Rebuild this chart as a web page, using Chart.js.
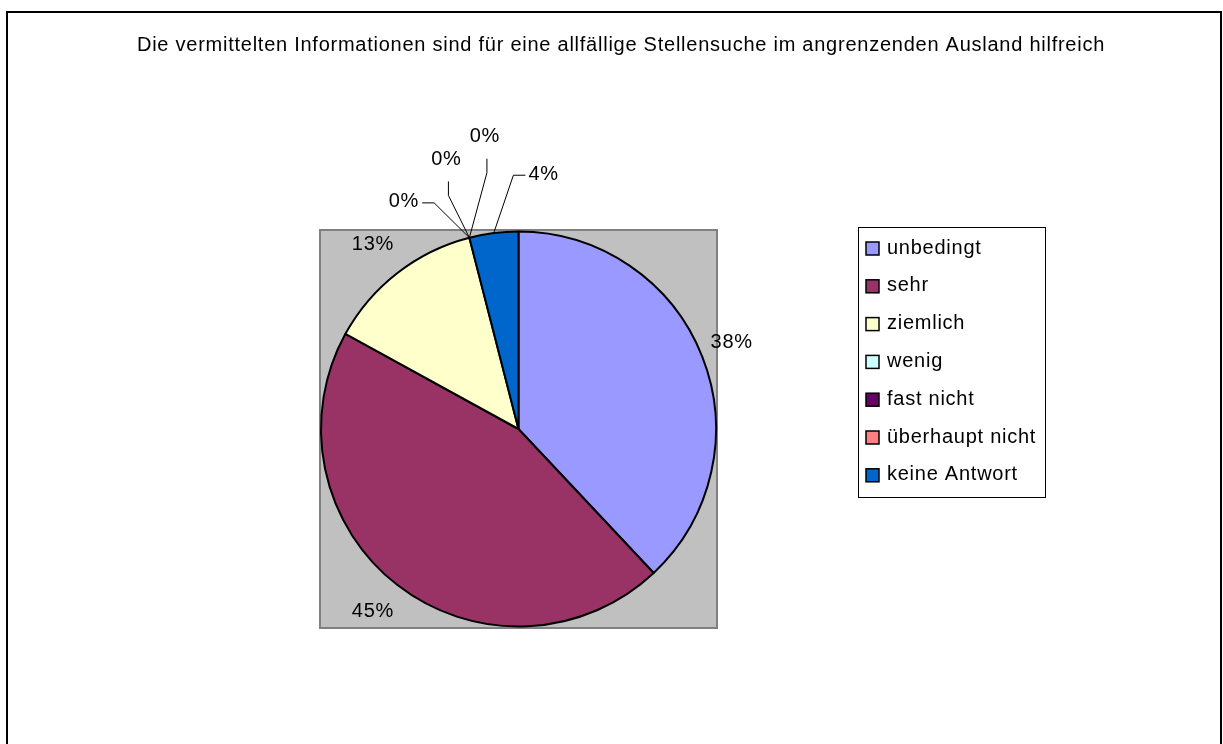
<!DOCTYPE html>
<html lang="de">
<head>
<meta charset="utf-8">
<title>Stellensuche im angrenzenden Ausland</title>
<script src="https://cdn.jsdelivr.net/npm/chart.js@4.4.1/dist/chart.umd.min.js"></script>
<style>
  html, body { margin: 0; padding: 0; background: #ffffff; }
  canvas { display: block; }
</style>
</head>
<body>
<canvas id="chart" width="1223" height="744"></canvas>
<script>
const chartTitle = 'Die vermittelten Informationen sind für eine allfällige Stellensuche im angrenzenden Ausland hilfreich';
const categories = ['unbedingt', 'sehr', 'ziemlich', 'wenig', 'fast nicht', 'überhaupt nicht', 'keine Antwort'];
const shares = [38, 45, 13, 0, 0, 0, 4];
const sliceColors = ['#9999FF', '#993366', '#FFFFCC', '#CCFFFF', '#660066', '#FF8080', '#0066CC'];

// labels that Excel pushed away from the crowded top of the pie:
// offset from the pie centre in radii, and which side of the text the leader line joins
const movedLabels = {
  3: { dx: -0.58, dy: -1.15, side: 'right' },
  4: { dx: -0.365, dy: -1.365, side: 'below' },
  5: { dx: -0.17, dy: -1.48, side: 'below' },
  6: { dx: 0.127, dy: -1.29, side: 'left' }
};

const FONT = '20px "Liberation Sans", Arial, sans-serif';

const excelPie = {
  id: 'excelPie',
  beforeDraw(chart) {
    const { ctx, chartArea } = chart;
    ctx.save();
    ctx.fillStyle = '#ffffff';
    ctx.fillRect(0, 0, chart.width, chart.height);
    ctx.fillStyle = '#C0C0C0';
    ctx.fillRect(chartArea.left, chartArea.top, chartArea.width, chartArea.height);
    ctx.strokeStyle = '#808080';
    ctx.lineWidth = 2;
    ctx.strokeRect(chartArea.left, chartArea.top, chartArea.width, chartArea.height);
    ctx.restore();
  },
  afterDraw(chart) {
    const { ctx } = chart;
    ctx.save();

    // outer chart frame
    ctx.strokeStyle = '#000000';
    ctx.lineWidth = 2;
    ctx.strokeRect(7, 12, 1214, 800);

    ctx.fillStyle = '#000000';
    ctx.font = FONT;
    ctx.letterSpacing = '0.75px';
    ctx.textBaseline = 'middle';
    ctx.textAlign = 'center';
    ctx.fillText(chartTitle, 621, 45);

    // percentage labels
    const arcs = chart.getDatasetMeta(0).data;
    const total = shares.reduce((a, b) => a + b, 0);
    arcs.forEach((arc, i) => {
      const { x, y, startAngle, endAngle, outerRadius } = arc.getProps(['x', 'y', 'startAngle', 'endAngle', 'outerRadius'], true);
      const mid = (startAngle + endAngle) / 2;
      const text = Math.round(shares[i] / total * 100) + '%';
      const moved = movedLabels[i];
      if (!moved) {
        const r = outerRadius + 35;
        ctx.fillText(text, x + Math.cos(mid) * r - 3, y + Math.sin(mid) * r - 1);
        return;
      }
      const lx = x + moved.dx * outerRadius;
      const ly = y + moved.dy * outerRadius;
      ctx.fillText(text, lx, ly);
      const half = ctx.measureText(text).width / 2;
      let join, elbow;
      if (moved.side === 'right') {
        join = [lx + half + 3, ly + 1];
        elbow = [lx + half + 15, ly + 1];
      } else if (moved.side === 'left') {
        join = [lx - half - 3, ly + 1];
        elbow = [lx - half - 15, ly + 1];
      } else {
        join = [lx + 2, ly + 22];
        elbow = [lx + 2, ly + 36];
      }
      const edge = [x + Math.cos(mid) * outerRadius, y + Math.sin(mid) * outerRadius];
      ctx.strokeStyle = '#000000';
      ctx.lineWidth = 1;
      ctx.beginPath();
      ctx.moveTo(join[0], join[1]);
      ctx.lineTo(elbow[0], elbow[1]);
      ctx.lineTo(edge[0], edge[1]);
      ctx.stroke();
    });

    // legend
    ctx.fillStyle = '#ffffff';
    ctx.fillRect(859, 228, 186, 270);
    ctx.strokeStyle = '#000000';
    ctx.lineWidth = 1;
    ctx.strokeRect(858.5, 227.5, 187, 270);
    ctx.textAlign = 'left';
    categories.forEach((name, i) => {
      const cy = 248 + i * 37.8;
      ctx.fillStyle = sliceColors[i];
      ctx.fillRect(866, cy - 6, 13, 13);
      ctx.strokeStyle = '#000000';
      ctx.lineWidth = 1.5;
      ctx.strokeRect(866, cy - 6, 13, 13);
      ctx.fillStyle = '#000000';
      ctx.fillText(name, 887, cy);
    });

    ctx.restore();
  }
};

new Chart(document.getElementById('chart'), {
  type: 'pie',
  data: {
    labels: categories,
    datasets: [
      {
        data: shares,
        backgroundColor: sliceColors,
        borderColor: '#000000',
        borderWidth: 2,
        hoverOffset: 0
      }
    ]
  },
  options: {
    responsive: false,
    animation: false,
    devicePixelRatio: 1,
    layout: {
      padding: { left: 320, top: 230, right: 506, bottom: 116 }
    },
    plugins: {
      legend: { display: false },
      title: { display: false },
      tooltip: { enabled: false }
    }
  },
  plugins: [excelPie]
});
</script>
</body>
</html>
